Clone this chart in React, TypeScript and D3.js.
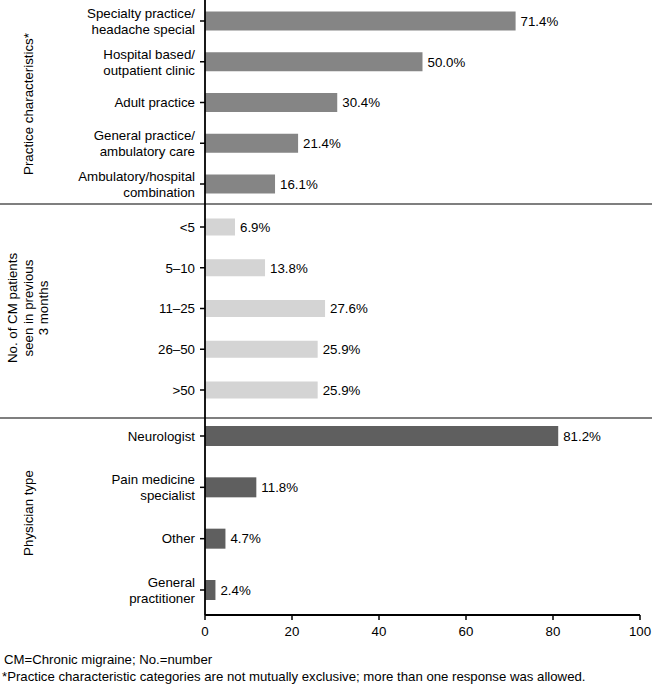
import React from "react";
import * as d3 from "d3";

// practice characteristics (multiple answers allowed)
const practiceLabels = [
  "Specialty practice/\nheadache special",
  "Hospital based/\noutpatient clinic",
  "Adult practice",
  "General practice/\nambulatory care",
  "Ambulatory/hospital\ncombination",
];
const practiceValues = [71.4, 50.0, 30.4, 21.4, 16.1];

// number of CM patients seen in previous 3 months
const cmLabels = ["<5", "5–10", "11–25", "26–50", ">50"];
const cmValues = [6.9, 13.8, 27.6, 25.9, 25.9];

// physician type
const physicianLabels = ["Neurologist", "Pain medicine\nspecialist", "Other", "General\npractitioner"];
const physicianValues = [81.2, 11.8, 4.7, 2.4];

const xTicks = [0, 20, 40, 60, 80, 100];

const W = 652;
const H = 685;
const axisX = 205;
const axisY = 615;
const font = "'Liberation Sans', Arial, Helvetica, sans-serif";

const x = d3.scaleLinear().domain([0, 100]).range([axisX, 640]);

const sections = [
  {
    labels: practiceLabels,
    values: practiceValues,
    y: d3.scalePoint<string>().domain(practiceLabels).range([21, 184]),
    barH: 19,
    fill: "#858585",
    title: ["Practice characteristics*"],
    titleY: 104,
  },
  {
    labels: cmLabels,
    values: cmValues,
    y: d3.scalePoint<string>().domain(cmLabels).range([227, 390]),
    barH: 17,
    fill: "#d4d4d4",
    title: ["No. of CM patients", "seen in previous", "3 months"],
    titleY: 308,
  },
  {
    labels: physicianLabels,
    values: physicianValues,
    y: d3.scalePoint<string>().domain(physicianLabels).range([436, 590]),
    barH: 20,
    fill: "#5f5f5f",
    title: ["Physician type"],
    titleY: 513,
  },
];

const separators = [204, 418];

export default function App() {
  return (
    <svg
      width={W}
      height={H}
      style={{ position: "absolute", left: 0, top: 0, background: "#fff" }}
      fontFamily={font}
    >
      {sections.map((s, si) => (
        <g key={si}>
          {s.labels.map((lab, i) => {
            const cy = s.y(lab) ?? 0;
            const lines = lab.split("\n");
            return (
              <g key={lab}>
                <rect
                  x={x(0)}
                  y={cy - s.barH / 2}
                  width={x(s.values[i]) - x(0)}
                  height={s.barH}
                  fill={s.fill}
                />
                <text
                  x={x(s.values[i]) + 5}
                  y={cy}
                  dy="0.36em"
                  fontSize={13.3}
                  fill="#000"
                >
                  {s.values[i].toFixed(1)}%
                </text>
                <line x1={axisX - 5} x2={axisX} y1={cy} y2={cy} stroke="#000" strokeWidth={1.5} />
                <text textAnchor="end" fontSize={13.3} fill="#000">
                  {lines.map((ln, li) => (
                    <tspan
                      key={li}
                      x={axisX - 10}
                      y={cy + (li - (lines.length - 1) / 2) * 16}
                      dy="0.36em"
                    >
                      {ln}
                    </tspan>
                  ))}
                </text>
              </g>
            );
          })}
          <text
            transform={`translate(${28 - ((s.title.length - 1) * 15.5) / 2},${s.titleY}) rotate(-90)`}
            textAnchor="middle"
            fontSize={13.3}
            fill="#000"
          >
            {s.title.map((t, ti) => (
              <tspan key={ti} x={0} y={ti * 15.5} dy="0.36em">
                {t}
              </tspan>
            ))}
          </text>
        </g>
      ))}

      {separators.map((sy) => (
        <line key={sy} x1={0} x2={W} y1={sy} y2={sy} stroke="#000" strokeWidth={1.2} />
      ))}

      {/* axes */}
      <line x1={axisX} x2={axisX} y1={0} y2={axisY} stroke="#000" strokeWidth={1.8} />
      <line x1={axisX} x2={x(100)} y1={axisY} y2={axisY} stroke="#000" strokeWidth={1.8} />
      {xTicks.map((t) => (
        <g key={t}>
          <line x1={x(t)} x2={x(t)} y1={axisY} y2={axisY + 5} stroke="#000" strokeWidth={1.5} />
          <text x={x(t)} y={axisY + 16} dy="0.36em" textAnchor="middle" fontSize={13.3} fill="#000">
            {t}
          </text>
        </g>
      ))}

      <text x={4} y={664} fontSize={13.2} fill="#000">
        CM=Chronic migraine; No.=number
      </text>
      <text x={2} y={681} fontSize={13.2} fill="#000">
        *Practice characteristic categories are not mutually exclusive; more than one response was allowed.
      </text>
    </svg>
  );
}
